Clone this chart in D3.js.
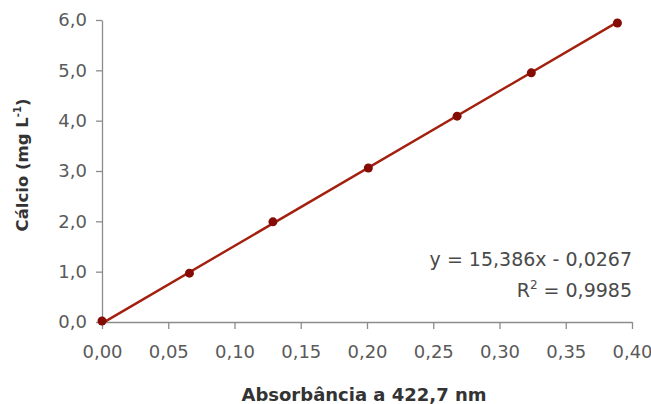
<!DOCTYPE html>
<html>
<head>
<meta charset="utf-8">
<script src="https://cdn.jsdelivr.net/npm/d3@7"></script>
<style>
  body { margin: 0; background: #fff; }
  text { font-family: "DejaVu Sans", Arial, sans-serif; }
</style>
</head>
<body>
<div id="chart"></div>
<script>
// Calibration data (absorbance vs calcium)
const absorbancia = [0.0, 0.066, 0.129, 0.201, 0.268, 0.324, 0.389];
const calcio = [0.02, 0.97, 1.99, 3.06, 4.09, 4.95, 5.94];
const xTicks = [0, 0.05, 0.10, 0.15, 0.20, 0.25, 0.30, 0.35, 0.40];
const yTicks = [0, 1, 2, 3, 4, 5, 6];
const slope = 15.386, intercept = -0.0267;
const eqText = "y = 15,386x - 0,0267";
const r2Text = " = 0,9985";

const WIDTH = 651, HEIGHT = 404;
const margins = { top: 20, left: 102, bottom: 82, right: 19 };
const width = WIDTH - margins.left - margins.right,
    height = HEIGHT - margins.top - margins.bottom;

const locale = d3.formatLocale({ decimal: ",", thousands: ".", grouping: [3], currency: ["", ""] });

const svg = d3.select("#chart")
    .append("svg")
    .attr("width", WIDTH)
    .attr("height", HEIGHT);

const xScale = d3.scaleLinear().domain([0, 0.4]).range([0, width]);
const yScale = d3.scaleLinear().domain([0, 6]).range([height, 0]);

const g = svg.append("g")
    .attr("transform", `translate(${margins.left}, ${margins.top})`);

const axisX = d3.axisBottom(xScale)
    .tickValues(xTicks)
    .tickSize(7)
    .tickSizeOuter(0)
    .tickPadding(16)
    .tickFormat(locale.format(".2f"));

const gx = g.append("g")
    .attr("transform", `translate(0, ${height})`)
    .call(axisX);

const axisY = d3.axisLeft(yScale)
    .tickValues(yTicks)
    .tickSize(6)
    .tickSizeOuter(0)
    .tickPadding(9)
    .tickFormat(locale.format(".1f"));

const gy = g.append("g").call(axisY);

[gx, gy].forEach(ax => {
    ax.select(".domain").attr("stroke", "#8c8c8c").attr("stroke-width", 1.3);
    ax.selectAll(".tick line").attr("stroke", "#8c8c8c").attr("stroke-width", 1.3);
    ax.selectAll(".tick text")
        .attr("font-size", 18)
        .attr("fill", "#5a5a5a");
});

// trend line
const xMin = d3.min(absorbancia), xMax = d3.max(absorbancia);
g.append("line")
    .attr("x1", xScale(xMin))
    .attr("y1", yScale(slope * xMin + intercept))
    .attr("x2", xScale(xMax))
    .attr("y2", yScale(slope * xMax + intercept))
    .attr("stroke", "#a3200f")
    .attr("stroke-width", 2.4);

// points
g.selectAll("circle")
    .data(absorbancia.map((a, i) => ({ x: a, y: calcio[i] })))
    .join("circle")
    .attr("cx", d => xScale(d.x))
    .attr("cy", d => yScale(d.y))
    .attr("r", 4.5)
    .attr("fill", "#850b05");

// equation
g.append("text")
    .attr("x", width)
    .attr("y", 246)
    .attr("text-anchor", "end")
    .attr("font-size", 19)
    .attr("fill", "#4a4a4a")
    .text(eqText);

const r2 = g.append("text")
    .attr("x", width)
    .attr("y", 277)
    .attr("text-anchor", "end")
    .attr("font-size", 19)
    .attr("fill", "#4a4a4a");
r2.append("tspan").text("R");
r2.append("tspan").attr("font-size", 12).attr("dy", -8).text("2");
r2.append("tspan").attr("dy", 8).text(r2Text);

// axis titles
svg.append("text")
    .attr("x", 364)
    .attr("y", 401)
    .attr("text-anchor", "middle")
    .attr("font-size", 18)
    .attr("font-weight", "bold")
    .attr("fill", "#333")
    .text("Absorbância a 422,7 nm");

const yTitle = svg.append("text")
    .attr("transform", "translate(28, 165) rotate(-90)")
    .attr("text-anchor", "middle")
    .attr("font-size", 16.5)
    .attr("font-weight", "bold")
    .attr("fill", "#333");
yTitle.append("tspan").text("Cálcio (mg L");
yTitle.append("tspan").attr("font-size", 10).attr("dy", -7).text("-1");
yTitle.append("tspan").attr("dy", 7).text(")");
</script>
</body>
</html>
